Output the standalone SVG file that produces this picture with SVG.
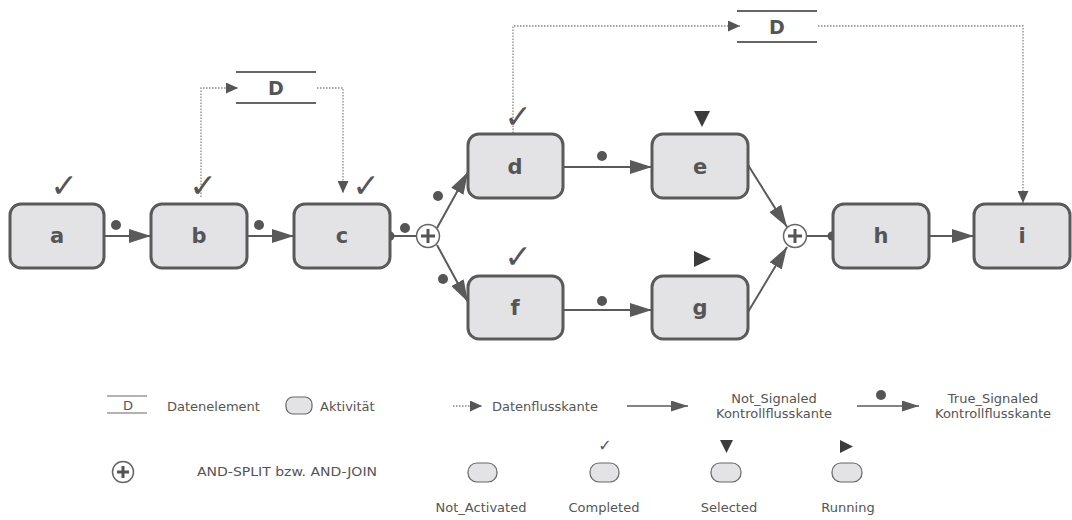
<svg xmlns="http://www.w3.org/2000/svg" width="1072" height="520" viewBox="0 0 1072 520">
<style>
.node rect{fill:#e3e3e5;stroke:#5a5a5a;stroke-width:3}
.lbl{font-family:"DejaVu Sans",sans-serif;font-weight:bold;font-size:21px;fill:#555;text-anchor:middle}
.dlbl{font-family:"DejaVu Sans",sans-serif;font-weight:bold;font-size:19px;fill:#555;text-anchor:middle}
.chk{font-family:"DejaVu Sans",sans-serif;font-size:33px;fill:#555;text-anchor:middle}
.ctl{stroke:#5a5a5a;stroke-width:2;fill:none}
.dat{stroke:#888;stroke-width:1.3;stroke-dasharray:1.5 1.5;fill:none}
.dline{stroke:#666;stroke-width:2}
.dot{fill:#555}
.gw circle{fill:#fff;stroke:#666;stroke-width:1.5}
.gw path{stroke:#555;stroke-width:3;fill:none}
.leg{font-family:"DejaVu Sans",sans-serif;font-size:13px;fill:#555}
.legc{font-family:"DejaVu Sans",sans-serif;font-size:13px;fill:#555;text-anchor:middle}
.mini{fill:#e3e3e5;stroke:#666;stroke-width:1.2}
.tri{fill:#3c3c3c}
</style>
<defs>
<marker id="ah" markerUnits="userSpaceOnUse" markerWidth="22" markerHeight="14" refX="22" refY="7" orient="auto"><path d="M0,0 L22,7 L0,14 z" fill="#5a5a5a"/></marker>
<marker id="ahs" markerUnits="userSpaceOnUse" markerWidth="17" markerHeight="11" refX="17" refY="5.5" orient="auto"><path d="M0,0 L17,5.5 L0,11 z" fill="#5a5a5a"/></marker>
<marker id="dh" markerUnits="userSpaceOnUse" markerWidth="12" markerHeight="11" refX="12" refY="5.5" orient="auto"><path d="M0,0 L12,5.5 L0,11 z" fill="#555"/></marker>
</defs>

<g id="connectors">
<line class="ctl" x1="104" y1="236" x2="151" y2="236" marker-end="url(#ah)"/>
<line class="ctl" x1="247" y1="236" x2="294" y2="236" marker-end="url(#ah)"/>
<line class="ctl" x1="390" y1="236" x2="417" y2="236"/>
<circle class="dot" cx="390" cy="236" r="4.5"/>
<line class="ctl" x1="437" y1="228" x2="468" y2="172" marker-end="url(#ah)"/>
<line class="ctl" x1="437" y1="245" x2="468" y2="302" marker-end="url(#ah)"/>
<line class="ctl" x1="563" y1="167" x2="652" y2="167" marker-end="url(#ah)"/>
<line class="ctl" x1="563" y1="310" x2="652" y2="310" marker-end="url(#ah)"/>
<line class="ctl" x1="748" y1="165" x2="787" y2="227" marker-end="url(#ah)"/>
<line class="ctl" x1="748" y1="312" x2="787" y2="247" marker-end="url(#ah)"/>
<line class="ctl" x1="806" y1="236" x2="833" y2="236"/>
<circle class="dot" cx="832" cy="236" r="4.5"/>
<line class="ctl" x1="929" y1="236" x2="974" y2="236" marker-end="url(#ah)"/>
<circle class="dot" cx="116" cy="225" r="5"/>
<circle class="dot" cx="259" cy="225" r="5"/>
<circle class="dot" cx="405" cy="228" r="5"/>
<circle class="dot" cx="438" cy="196" r="5"/>
<circle class="dot" cx="443" cy="279" r="5"/>
<circle class="dot" cx="602" cy="156" r="5"/>
<circle class="dot" cx="602" cy="301" r="5"/>
<polyline class="dat" points="201,197 201,88 238,88" marker-end="url(#dh)"/>
<polyline class="dat" points="317,88 343,88 343,193" marker-end="url(#dh)"/>
<polyline class="dat" points="513,133 513,26 740,26" marker-end="url(#dh)"/>
<polyline class="dat" points="818,26 1023,26 1023,203" marker-end="url(#dh)"/>
</g>

<g id="data1">
<line class="dline" x1="236" y1="72" x2="316" y2="72"/>
<line class="dline" x1="236" y1="103" x2="316" y2="103"/>
<text class="dlbl" x="276" y="95">D</text>
</g>
<g id="data2">
<line class="dline" x1="737" y1="11" x2="817" y2="11"/>
<line class="dline" x1="737" y1="42" x2="817" y2="42"/>
<text class="dlbl" x="777" y="34">D</text>
</g>

<g id="node-a" class="node"><rect x="10" y="204" width="94" height="64" rx="11"/><text class="lbl" x="57" y="243">a</text><text class="chk" x="64" y="197">✓</text></g>
<g id="node-b" class="node"><rect x="151" y="204" width="96" height="64" rx="11"/><text class="lbl" x="199" y="243">b</text><text class="chk" x="203" y="197">✓</text></g>
<g id="node-c" class="node"><rect x="294" y="204" width="96" height="64" rx="11"/><text class="lbl" x="342" y="243">c</text><text class="chk" x="366" y="197">✓</text></g>
<g id="node-d" class="node"><rect x="468" y="134" width="95" height="64" rx="11"/><text class="lbl" x="515" y="174">d</text><text class="chk" x="518" y="128">✓</text></g>
<g id="node-e" class="node"><rect x="652" y="134" width="96" height="64" rx="11"/><text class="lbl" x="700" y="174">e</text><polygon class="tri" points="694,111 710,111 702,127"/></g>
<g id="node-f" class="node"><rect x="468" y="276" width="95" height="63" rx="11"/><text class="lbl" x="515" y="315">f</text><text class="chk" x="518" y="268">✓</text></g>
<g id="node-g" class="node"><rect x="652" y="276" width="96" height="63" rx="11"/><text class="lbl" x="700" y="315">g</text><polygon class="tri" points="694,251 711,259 694,267"/></g>
<g id="node-h" class="node"><rect x="833" y="204" width="96" height="64" rx="11"/><text class="lbl" x="881" y="243">h</text></g>
<g id="node-i" class="node"><rect x="974" y="204" width="96" height="64" rx="11"/><text class="lbl" x="1022" y="243">i</text></g>

<g id="split" class="gw"><circle cx="428" cy="236" r="11.5"/><path d="M421,236 H435 M428,229 V243"/></g>
<g id="join" class="gw"><circle cx="795" cy="236" r="11.5"/><path d="M788,236 H802 M795,229 V243"/></g>

<g id="legend">
<line x1="107" y1="396" x2="147" y2="396" stroke="#666" stroke-width="1.2"/>
<line x1="107" y1="413" x2="147" y2="413" stroke="#666" stroke-width="1.2"/>
<text class="legc" x="128" y="410">D</text>
<text class="leg" x="167" y="411">Datenelement</text>
<rect class="mini" x="286" y="397" width="26" height="17" rx="7"/>
<text class="leg" x="320" y="411">Aktivität</text>
<line class="dat" x1="453" y1="406" x2="482" y2="406" marker-end="url(#dh)"/>
<text class="leg" x="492" y="411">Datenflusskante</text>
<line x1="627" y1="406" x2="688" y2="406" stroke="#5a5a5a" stroke-width="1.3" marker-end="url(#ahs)"/>
<text class="legc" x="774" y="403">Not_Signaled</text>
<text class="legc" x="774" y="418">Kontrollflusskante</text>
<line x1="857" y1="406" x2="919" y2="406" stroke="#5a5a5a" stroke-width="1.3" marker-end="url(#ahs)"/>
<circle class="dot" cx="881" cy="395" r="5"/>
<text class="legc" x="993" y="403">True_Signaled</text>
<text class="legc" x="993" y="418">Kontrollflusskante</text>
<g class="gw"><circle cx="123" cy="472" r="10.5"/><path d="M117,472 H129 M123,466 V478"/></g>
<text class="leg" x="197" y="476" textLength="180" lengthAdjust="spacingAndGlyphs">AND-SPLIT bzw. AND-JOIN</text>
<rect class="mini" x="468" y="463" width="29" height="19" rx="9"/>
<rect class="mini" x="590" y="463" width="29" height="19" rx="9"/>
<rect class="mini" x="711" y="463" width="30" height="19" rx="9"/>
<rect class="mini" x="832" y="463" width="30" height="19" rx="9"/>
<text x="605" y="451" font-family="DejaVu Sans, sans-serif" font-size="16" fill="#555" text-anchor="middle">✓</text>
<polygon class="tri" points="720,440 733,440 726.5,453"/>
<polygon class="tri" points="840,440 853,446.5 840,453"/>
<text class="legc" x="481" y="512">Not_Activated</text>
<text class="legc" x="604" y="512">Completed</text>
<text class="legc" x="729" y="512">Selected</text>
<text class="legc" x="848" y="512">Running</text>
</g>
</svg>
